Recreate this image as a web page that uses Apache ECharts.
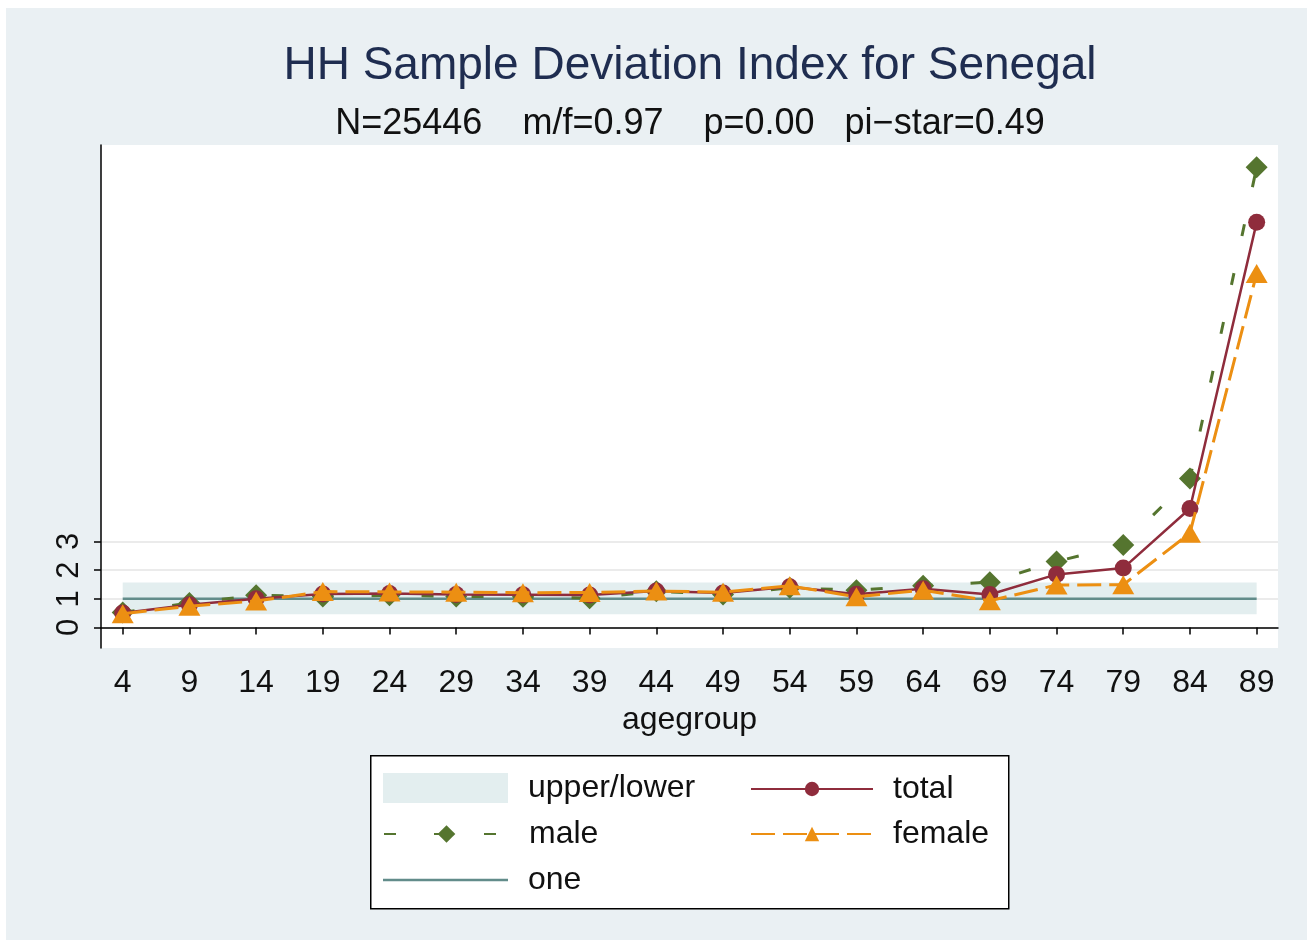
<!DOCTYPE html>
<html><head><meta charset="utf-8">
<script src="https://cdn.jsdelivr.net/npm/echarts@6/dist/echarts.min.js"></script>
<style>html,body{margin:0;padding:0;background:#fff;}#c{position:absolute;left:6px;top:8px;width:1301px;height:932px;}</style>
</head><body><div id="c"></div>
<script>
const ages = [4, 9, 14, 19, 24, 29, 34, 39, 44, 49, 54, 59, 64, 69, 74, 79, 84, 89];
const total = [0.50, 0.79, 1.00, 1.17, 1.18, 1.15, 1.14, 1.13, 1.27, 1.20, 1.42, 1.16, 1.35, 1.15, 1.85, 2.07, 4.15, 14.14];
const male = [0.52, 0.85, 1.12, 1.08, 1.12, 1.08, 1.07, 1.02, 1.26, 1.15, 1.38, 1.30, 1.45, 1.58, 2.30, 2.88, 5.20, 16.06];
const female = [0.48, 0.74, 0.92, 1.25, 1.24, 1.23, 1.21, 1.22, 1.27, 1.23, 1.45, 1.07, 1.30, 0.93, 1.48, 1.49, 3.29, 12.35];
const oneLine = [1, 1, 1, 1, 1, 1, 1, 1, 1, 1, 1, 1, 1, 1, 1, 1, 1, 1];
const bandLower = [0.46, 0.46, 0.46, 0.46, 0.46, 0.46, 0.46, 0.46, 0.46, 0.46, 0.46, 0.46, 0.46, 0.46, 0.46, 0.46, 0.46, 0.46];
const bandUpper = [1.57, 1.57, 1.57, 1.57, 1.57, 1.57, 1.57, 1.57, 1.57, 1.57, 1.57, 1.57, 1.57, 1.57, 1.57, 1.57, 1.57, 1.57];
const xTicks = [4, 9, 14, 19, 24, 29, 34, 39, 44, 49, 54, 59, 64, 69, 74, 79, 84, 89];
const yTicks = [0, 1, 2, 3];

const FONT = 'Liberation Sans';
const C_TOTAL = '#8f2c3c', C_MALE = '#55752f', C_FEMALE = '#ec8f12', C_ONE = '#628c8a', C_BAND = '#e3eeef';
const pair = (ys) => ages.map((a, i) => [a, ys[i]]);

const chart = echarts.init(document.getElementById('c'), null, {renderer: 'canvas'});
const txt = {fontFamily: FONT, fontSize: 32, color: '#111'};
const legendBase = {orient: 'horizontal', padding: 0, selectedMode: false, itemGap: 0,
  textStyle: {fontFamily: FONT, fontSize: 32, color: '#111', padding: [0, 0, 0, 15]}};

chart.setOption({
  backgroundColor: '#eaf0f3',
  animation: false,
  title: [
    {text: 'HH Sample Deviation Index for Senegal', left: 679, top: 30, textAlign: 'center',
     textStyle: {fontFamily: FONT, fontSize: 46, fontWeight: 'normal', color: '#1f2d50'}},
    {text: 'N=25446    m/f=0.97    p=0.00   pi\u2212star=0.49', left: 679, top: 93, textAlign: 'center',
     textStyle: {fontFamily: FONT, fontSize: 36, fontWeight: 'normal', color: '#111'}}
  ],
  grid: {left: 95, top: 137, right: 29, bottom: 292, show: true, backgroundColor: '#fff', borderWidth: 0},
  xAxis: {
    type: 'value', min: 2.373, max: 90.6,
    name: 'agegroup', nameLocation: 'middle', nameGap: 54,
    nameTextStyle: txt,
    axisLine: {lineStyle: {color: '#000', width: 1.5}},
    axisTick: {show: true, length: 7, lineStyle: {color: '#000', width: 1.5}, customValues: xTicks},
    axisLabel: {customValues: xTicks, margin: 19, fontFamily: FONT, fontSize: 32, color: '#111'},
    splitLine: {show: false}
  },
  yAxis: {
    type: 'value', min: -0.719, max: 16.84,
    axisLine: {show: true, lineStyle: {color: '#000', width: 1.5}},
    axisTick: {show: true, length: 7, lineStyle: {color: '#000', width: 1.5}, customValues: yTicks},
    axisLabel: {customValues: yTicks, rotate: 90, margin: 16, fontFamily: FONT, fontSize: 31, color: '#111'},
    splitLine: {show: true, lineStyle: {color: '#ebebeb', width: 2}}
  },
  legend: [
    Object.assign({}, legendBase, {data: [{name: 'upper/lower', icon: 'rect'}], left: 377, top: 764, itemWidth: 125, itemHeight: 30}),
    Object.assign({}, legendBase, {data: ['male'], left: 377, top: 810, itemWidth: 125, itemHeight: 22}),
    Object.assign({}, legendBase, {data: [{name: 'one', icon: 'rect'}], left: 377, top: 856, itemWidth: 125, itemHeight: 2.5}),
    Object.assign({}, legendBase, {data: ['total'], left: 744, top: 765, itemWidth: 122, itemHeight: 18}),
    Object.assign({}, legendBase, {data: ['female'], left: 744, top: 810, itemWidth: 122, itemHeight: 18})
  ],
  graphic: [
    {type: 'rect', left: 364, top: 747, shape: {width: 638, height: 153}, style: {fill: '#fff', stroke: '#000', lineWidth: 1.5}, z: 0}
  ],
  series: [
    {name: 'upper/lower', type: 'custom', z: 1, silent: true,
     itemStyle: {color: C_BAND},
     data: [[ages[0], bandLower[0]]],
     renderItem: function (params, api) {
       const pts = [];
       for (let i = 0; i < ages.length; i++) pts.push(api.coord([ages[i], bandUpper[i]]));
       for (let i = ages.length - 1; i >= 0; i--) pts.push(api.coord([ages[i], bandLower[i]]));
       return {type: 'polygon', shape: {points: pts}, style: {fill: C_BAND}};
     }},
    {name: 'one', type: 'line', z: 2, silent: true, data: pair(oneLine), symbol: 'none',
     lineStyle: {color: C_ONE, width: 2.5}, itemStyle: {color: C_ONE}},
    {name: 'male', type: 'line', z: 3, silent: true, data: pair(male), symbol: 'diamond', symbolSize: 22,
     lineStyle: {color: C_MALE, width: 3, type: [12, 38]}, itemStyle: {color: C_MALE}},
    {name: 'total', type: 'line', z: 4, silent: true, data: pair(total), symbol: 'circle', symbolSize: 17,
     lineStyle: {color: C_TOTAL, width: 2.5}, itemStyle: {color: C_TOTAL}},
    {name: 'female', type: 'line', z: 5, silent: true, data: pair(female), symbol: 'triangle', symbolSize: [22, 19],
     lineStyle: {color: C_FEMALE, width: 3, type: [24, 8]}, itemStyle: {color: C_FEMALE}}
  ]
});
</script>
</body></html>
